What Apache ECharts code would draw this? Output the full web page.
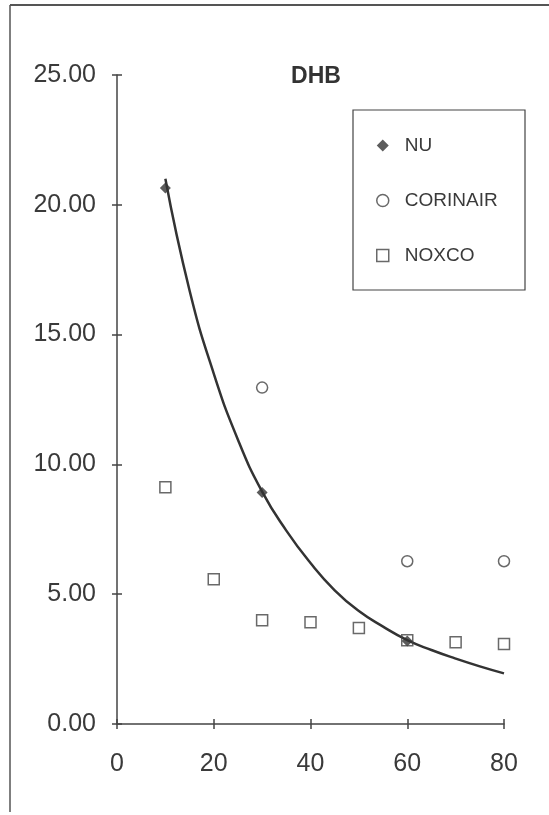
<!DOCTYPE html>
<html><head><meta charset="utf-8">
<script src="https://cdn.jsdelivr.net/npm/echarts@6/dist/echarts.min.js"></script>
<style>html,body{margin:0;padding:0;background:#fff}#c{width:549px;height:815px}</style>
</head><body><div id="c"></div>
<script>
const chartTitle = 'DHB';
const xTicks = [0, 20, 40, 60, 80];
const yTicks = [0, 5, 10, 15, 20, 25];
const nuX = [10, 30, 60];
const nuY = [20.65, 8.92, 3.2];
const corinairX = [30, 60, 80];
const corinairY = [12.96, 6.27, 6.27];
const noxcoX = [10, 20, 30, 40, 50, 60, 70, 80];
const noxcoY = [9.12, 5.58, 4.0, 3.92, 3.7, 3.23, 3.15, 3.08];
const fitX = [10, 15, 20, 25, 30, 35, 40, 45, 50, 55, 60, 65, 70, 75, 80];
const fitY = [21.0, 16.7, 13.5, 10.95, 8.95, 7.45, 6.2, 5.15, 4.35, 3.75, 3.23, 2.85, 2.52, 2.22, 1.95];

const zip = (xs, ys) => xs.map((x, i) => [x, ys[i]]);
const txt = '#3a3a3a';
const font = 'Liberation Sans';
const axisCol = '#444';
const chart = echarts.init(document.getElementById('c'), null, {renderer: 'canvas'});
chart.setOption({
  backgroundColor: '#fff',
  animation: false,
  title: {text: chartTitle, left: 311, top: 60, textAlign: 'center',
    textStyle: {fontFamily: font, fontWeight: 'bold', fontSize: 23, color: '#333'}},
  grid: {left: 117, right: 45, top: 75, bottom: 91},
  legend: {
    show: true, left: 371, top: 131, orient: 'vertical', itemGap: 36,
    itemWidth: 12, itemHeight: 12,
    textStyle: {fontFamily: font, fontSize: 19, color: txt, padding: [0, 0, 0, 11]},
    data: [
      {name: 'NU', icon: 'diamond', itemStyle: {color: '#333', borderWidth: 0}},
      {name: 'CORINAIR', icon: 'circle', itemStyle: {color: '#fff', borderColor: '#444', borderWidth: 1.5}},
      {name: 'NOXCO', icon: 'rect', itemStyle: {color: '#fff', borderColor: '#444', borderWidth: 1.5}}
    ]
  },
  graphic: [
    {type: 'rect', shape: {x: 353, y: 110, width: 172, height: 180},
     style: {fill: 'none', stroke: '#444', lineWidth: 1.2}},
    {type: 'line', shape: {x1: 10, y1: 5, x2: 549, y2: 5}, style: {stroke: '#555', lineWidth: 2}},
    {type: 'line', shape: {x1: 10, y1: 5, x2: 10, y2: 812}, style: {stroke: '#555', lineWidth: 1.5}}
  ],
  xAxis: [{
    type: 'value', min: xTicks[0], max: xTicks[xTicks.length - 1], interval: 20,
    axisLine: {lineStyle: {color: axisCol, width: 1.5}},
    axisTick: {show: true, length: 5, lineStyle: {color: axisCol, width: 1.5}},
    splitLine: {show: false},
    axisLabel: {fontFamily: font, fontSize: 25, color: txt, margin: 28,
      formatter: v => String(v)}
  }, {
    type: 'value', position: 'bottom', min: xTicks[0], max: xTicks[xTicks.length - 1], interval: 20,
    axisLine: {show: false},
    axisTick: {show: true, inside: true, length: 5, lineStyle: {color: axisCol, width: 1.5}},
    splitLine: {show: false}, axisLabel: {show: false}
  }],
  yAxis: [{
    type: 'value', min: yTicks[0], max: yTicks[yTicks.length - 1], interval: 5,
    axisLine: {show: true, lineStyle: {color: axisCol, width: 1.5}},
    axisTick: {show: true, length: 5, lineStyle: {color: axisCol, width: 1.5}},
    splitLine: {show: false},
    axisLabel: {fontFamily: font, fontSize: 25, color: txt, margin: 21,
      formatter: v => v.toFixed(2)}
  }, {
    type: 'value', position: 'left', min: yTicks[0], max: yTicks[yTicks.length - 1], interval: 5,
    axisLine: {show: false},
    axisTick: {show: true, inside: true, length: 5, lineStyle: {color: axisCol, width: 1.5}},
    splitLine: {show: false}, axisLabel: {show: false}
  }],
  series: [
    {name: 'fit', type: 'line', data: zip(fitX, fitY), smooth: true, showSymbol: false,
     lineStyle: {color: '#333', width: 2.5}, z: 2, legendHoverLink: false},
    {name: 'NU', type: 'scatter', data: zip(nuX, nuY), symbol: 'diamond', symbolSize: 11,
     itemStyle: {color: '#333'}, z: 3},
    {name: 'CORINAIR', type: 'scatter', data: zip(corinairX, corinairY), symbol: 'circle', symbolSize: 11,
     itemStyle: {color: '#fff', borderColor: '#444', borderWidth: 1.5}, z: 4},
    {name: 'NOXCO', type: 'scatter', data: zip(noxcoX, noxcoY), symbol: 'rect', symbolSize: 11,
     itemStyle: {color: 'rgba(255,255,255,0)', borderColor: '#444', borderWidth: 1.5}, z: 4}
  ]
});
</script></body></html>
